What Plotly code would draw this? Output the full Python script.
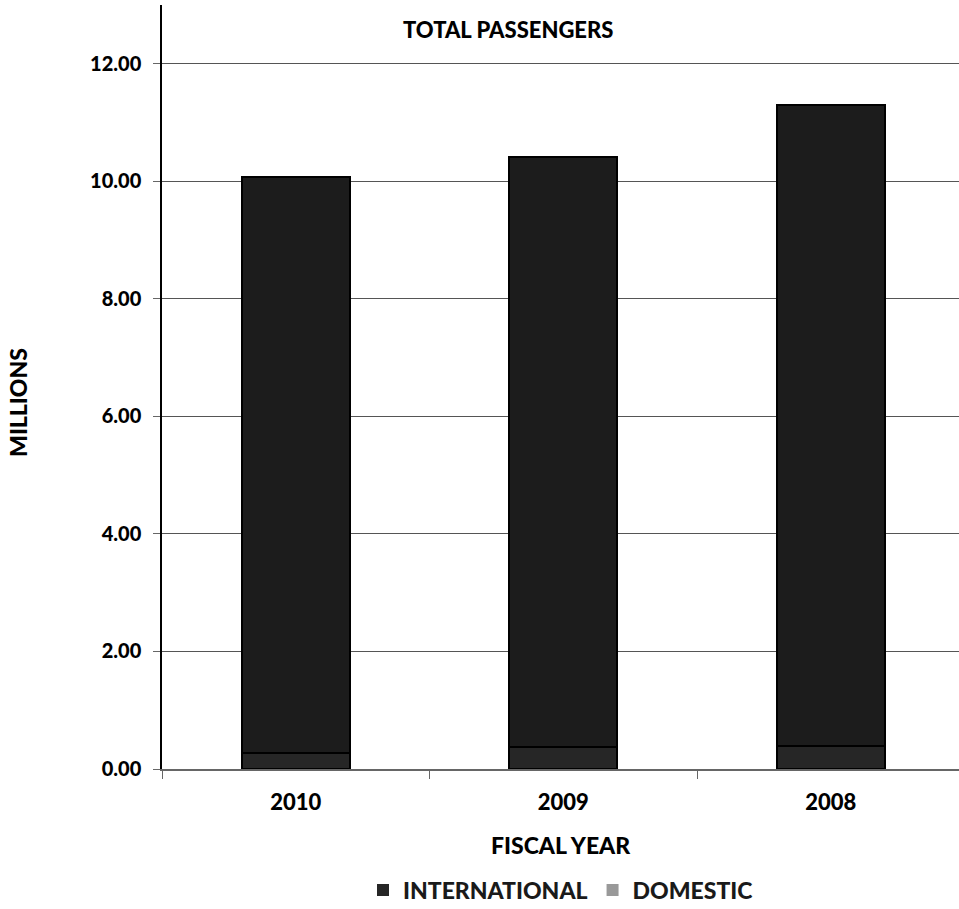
import plotly.graph_objects as go

# Passenger totals by fiscal year, in millions
years = ["2010", "2009", "2008"]
domestic = [0.28, 0.38, 0.39]
international = [9.80, 10.04, 10.91]
y_ticks = [0, 2, 4, 6, 8, 10, 12]
y_tick_labels = ["0.00", "2.00", "4.00", "6.00", "8.00", "10.00", "12.00"]

FONT = "Lato"
W, H = 959, 909
L, R, T, B = 162, 0, 5, 140
PW, PH = W - L - R, H - T - B


def px_x(x):
    return (x - L) / PW


def px_y(y):
    return (H - B - y) / PH


fig = go.Figure()

# stacked bars
fig.add_trace(go.Bar(
    x=years, y=domestic, name="DOMESTIC", showlegend=False,
    marker=dict(color="#262626", line=dict(color="#000000", width=2)),
    width=0.404,
))
fig.add_trace(go.Bar(
    x=years, y=international, name="INTERNATIONAL", showlegend=False,
    marker=dict(color="#1c1c1c", line=dict(color="#000000", width=2)),
    width=0.404,
))

# legend entries
fig.add_trace(go.Scatter(x=[None], y=[None], name="INTERNATIONAL", mode="markers",
                         marker=dict(symbol="square", size=20, color="#262626")))
fig.add_trace(go.Scatter(x=[None], y=[None], name="DOMESTIC", mode="markers",
                         marker=dict(symbol="square", size=20, color="#999999")))

fig.update_layout(
    width=W, height=H,
    margin=dict(l=L, r=R, t=T, b=B, autoexpand=False),
    barmode="stack",
    plot_bgcolor="white", paper_bgcolor="white",
    font=dict(family=FONT, size=16, color="#000000"),
    legend=dict(orientation="h", x=0.5, xanchor="center", y=px_y(890), yanchor="middle",
                font=dict(family=FONT, size=23, color="#1a1a1a", weight=900),
                traceorder="normal", itemsizing="constant"),
    xaxis=dict(
        type="category", range=[-0.5, 2.479],
        tickson="boundaries", ticks="outside", ticklen=8, tickcolor="#666666",
        showline=True, linecolor="#666666", linewidth=2,
        showgrid=False, ticklabelstandoff=13,
        tickfont=dict(family=FONT, size=22, weight=900),
    ),
    yaxis=dict(
        range=[0, 13], tickvals=y_ticks, ticktext=y_tick_labels,
        ticks="outside", ticklen=7, tickcolor="#666666",
        showline=True, linecolor="#000000", linewidth=1.5,
        showgrid=True, gridcolor="#555555", gridwidth=1,
        zeroline=False, ticklabelstandoff=8,
        tickfont=dict(family=FONT, size=20, weight=900),
    ),
    annotations=[
        dict(text="TOTAL PASSENGERS", xref="paper", yref="paper",
             x=px_x(508), y=px_y(30), xanchor="center", yanchor="middle",
             showarrow=False, font=dict(family=FONT, size=22, weight=900)),
        dict(text="FISCAL YEAR", xref="paper", yref="paper",
             x=px_x(561), y=px_y(845), xanchor="center", yanchor="middle",
             showarrow=False, font=dict(family=FONT, size=23, weight=900)),
        dict(text="MILLIONS", xref="paper", yref="paper", textangle=-90,
             x=px_x(18), y=px_y(403), xanchor="center", yanchor="middle",
             showarrow=False, font=dict(family=FONT, size=23, weight=900)),
    ],
)

fig.write_html("out.html")
